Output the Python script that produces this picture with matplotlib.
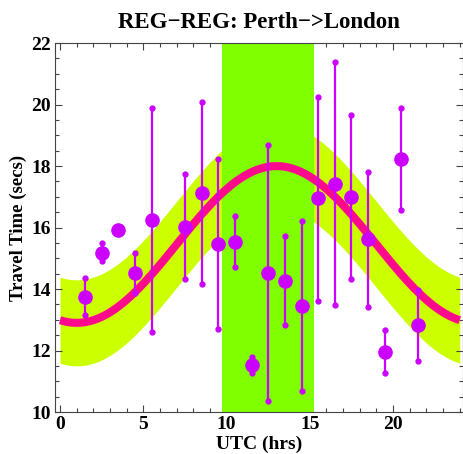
import numpy as np
import matplotlib
matplotlib.use("Agg")
import matplotlib.pyplot as plt
from matplotlib.ticker import MultipleLocator

plt.rcParams['font.family'] = ['Liberation Serif', 'DejaVu Serif']
plt.rcParams['font.weight'] = 'bold'

# measured travel times per UTC hour
hours = [1.5, 2.5, 3.5, 4.5, 5.5, 7.5, 8.5, 9.5, 10.5, 11.5, 12.5, 13.5,
         14.5, 15.5, 16.5, 17.5, 18.5, 19.5, 20.5, 21.5]
times = [13.73, 15.18, 15.92, 14.53, 16.24, 16.03, 17.14, 15.45, 15.54, 11.53,
         14.53, 14.27, 13.45, 16.97, 17.41, 17.00, 15.62, 11.95, 18.24, 12.83]
err_hi = [14.35, 15.50, 15.92, 15.18, 19.88, 17.74, 20.10, 18.22, 16.37, 11.78,
          18.68, 15.72, 16.22, 20.25, 21.37, 19.66, 17.81, 12.66, 19.90, 13.97]
err_lo = [13.15, 14.91, 15.92, 13.88, 12.61, 14.32, 14.15, 12.70, 14.71, 11.26,
          10.37, 12.83, 10.69, 13.62, 13.47, 14.32, 13.41, 11.26, 16.56, 11.66]

# model: daily sinusoid
model_mean = 15.45
model_amp = 2.55
model_peak = 13.0
band_half = 1.4
night_start, night_end = 9.75, 15.25

t = np.linspace(0, 24, 300)
model = model_mean - model_amp * np.cos(2 * np.pi * (t - model_peak + 12) / 24)

fig = plt.figure(figsize=(4.64, 4.54), dpi=100)
ax = fig.add_axes([0.1185, 0.0925, 0.8795, 0.8125])

ax.fill_between(t, model - band_half, model + band_half, color='#ccff00', lw=0, zorder=1)
ax.axvspan(night_start, night_end, color='#80ff00', lw=0, zorder=2)
ax.plot(t, model, color='#ff0a8c', lw=5.8, solid_capstyle='butt', zorder=3)

x = np.array(hours)
y = np.array(times)
hi = np.array(err_hi)
lo = np.array(err_lo)
purple = '#cc00ff'
ax.vlines(x, lo, hi, color=purple, lw=1.6, zorder=4)
has_err = hi > y
ax.plot(x[has_err], hi[has_err], 'o', color=purple, ms=3.5, zorder=5)
ax.plot(x[has_err], lo[has_err], 'o', color=purple, ms=3.5, zorder=5)
ax.plot(x, y, 'o', color=purple, ms=9.5, zorder=6)

ax.set_xlim(-0.3, 24.2)
ax.set_ylim(10, 22)
ax.xaxis.set_major_locator(MultipleLocator(5))
ax.xaxis.set_minor_locator(MultipleLocator(1))
ax.yaxis.set_major_locator(MultipleLocator(2))
ax.yaxis.set_minor_locator(MultipleLocator(0.5))
ax.tick_params(which='both', direction='in', top=True, right=True,
               labelsize=14, pad=3, width=0.8, color='#444444')
ax.tick_params(which='major', length=5)
ax.tick_params(which='minor', length=3)
for s in ax.spines.values():
    s.set_linewidth(0.8)
    s.set_color('#444444')

ax.set_xlabel('UTC (hrs)', fontsize=14, fontweight='bold', labelpad=2)
ax.set_ylabel('Travel Time (secs)', fontsize=13.5, fontweight='bold', labelpad=3)
ax.set_title('REG\u2212REG: Perth\u2212>London', fontsize=16.5, fontweight='bold', pad=11)

fig.savefig('out.png', dpi=100)
